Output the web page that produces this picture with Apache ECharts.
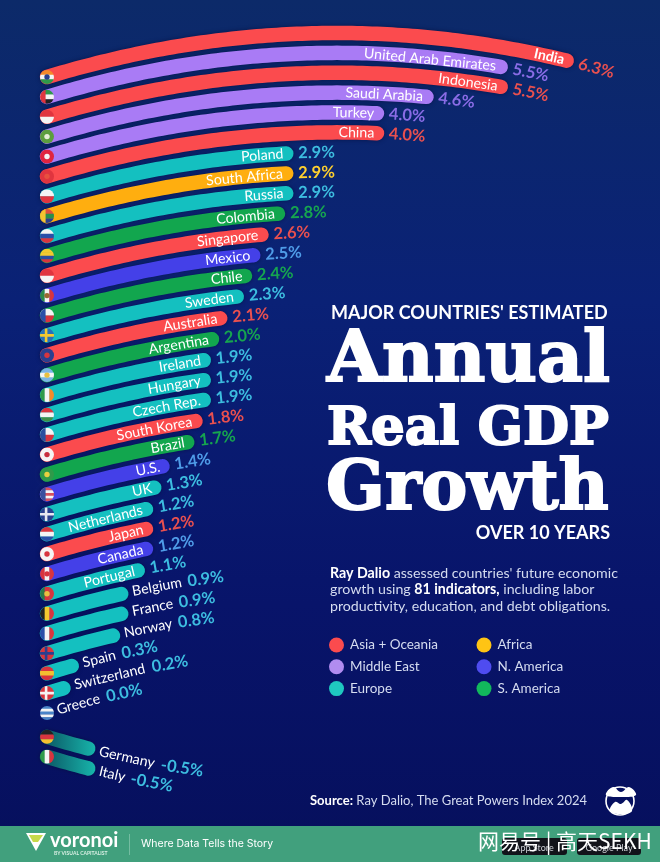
<!DOCTYPE html>
<html>
<head>
<meta charset="utf-8">
<script src="https://cdn.jsdelivr.net/npm/echarts@6/dist/echarts.min.js"></script>
<style>
html,body{margin:0;padding:0;background:#07105e}
#main{width:660px;height:862px}
</style>
</head>
<body>
<div id="main"></div>
<script>
var countries = ['India','United Arab Emirates','Indonesia','Saudi Arabia','Turkey','China','Poland','South Africa','Russia','Colombia','Singapore','Mexico','Chile','Sweden','Australia','Argentina','Ireland','Hungary','Czech Rep.','South Korea','Brazil','U.S.','UK','Netherlands','Japan','Canada','Portugal','Belgium','France','Norway','Spain','Switzerland','Greece','Germany','Italy'];
var growth = [6.3,5.5,5.5,4.6,4.0,4.0,2.9,2.9,2.9,2.8,2.6,2.5,2.4,2.3,2.1,2.0,1.9,1.9,1.9,1.8,1.7,1.4,1.3,1.2,1.2,1.2,1.1,0.9,0.9,0.8,0.3,0.2,0.0,-0.5,-0.5];
var regionOf = ['Asia + Oceania','Middle East','Asia + Oceania','Middle East','Middle East','Asia + Oceania','Europe','Africa','Europe','S. America','Asia + Oceania','N. America','S. America','Europe','Asia + Oceania','S. America','Europe','Europe','Europe','Asia + Oceania','S. America','N. America','Europe','Europe','Asia + Oceania','N. America','Europe','Europe','Europe','Europe','Europe','Europe','Europe','Europe','Europe'];
var regions = ['Asia + Oceania','Middle East','Europe','Africa','N. America','S. America'];

var barColor = {'Asia + Oceania':'#fb4b4e','Middle East':'#a97bf5','Europe':'#14c0c0','Africa':'#ffae0f','N. America':'#4440e8','S. America':'#12a64e'};
var valueColor = {'Asia + Oceania':'#e9504f','Middle East':'#8a6ce6','Europe':'#3dbde0','Africa':'#ffd02e','N. America':'#4f9ce8','S. America':'#16a54f'};
var legendColor = {'Asia + Oceania':'#fb4b4e','Middle East':'#b18cf0','Europe':'#1fc8c0','Africa':'#ffc414','N. America':'#4f4cf0','S. America':'#12b85c'};

// flag look only, stripes run top to bottom (h) or left to right (v)
var flags = {
  'India':{h:['#f58a2a','#f4f4f4','#2f9a4a'],dot:'#2a3f8f'},
  'United Arab Emirates':{h:['#2f9a4a','#f4f4f4','#222'],bar:'#e0353f'},
  'Indonesia':{h:['#e0353f','#f4f4f4']},
  'Saudi Arabia':{h:['#5c9e3e'],dot:'#e6efd8'},
  'Turkey':{h:['#e0253f'],dot:'#f4f4f4'},
  'China':{h:['#e0353f'],dot:'#e8503f'},
  'Poland':{h:['#f4f4f4','#e0353f']},
  'South Africa':{h:['#e0503f','#2a8f4a','#2a3f8f'],bar:'#f4c430'},
  'Russia':{h:['#f4f4f4','#2a4fa8','#d8353f']},
  'Colombia':{h:['#f4c92e','#f4c92e','#2a4f9f','#d8353f']},
  'Singapore':{h:['#e0353f','#f4f4f4']},
  'Mexico':{v:['#2a8a4a','#f4f4f4','#d8353f'],dot:'#9a6a30'},
  'Chile':{h:['#f4f4f4','#d8353f'],bar:'#2a4fa8'},
  'Sweden':{h:['#2a6fb8'],cross:'#f4c92e'},
  'Australia':{h:['#2a3f8f'],dot:'#d8353f'},
  'Argentina':{h:['#7ab4e6','#f4f4f4','#7ab4e6'],dot:'#e8c040'},
  'Ireland':{v:['#2f9a4a','#f4f4f4','#f58a2a']},
  'Hungary':{h:['#d8353f','#f4f4f4','#3f8f4a']},
  'Czech Rep.':{h:['#f4f4f4','#d8353f'],bar:'#2a4f9f'},
  'South Korea':{h:['#f4f4f4'],dot:'#c8303f'},
  'Brazil':{h:['#2f9a4a'],dot:'#e8d040'},
  'U.S.':{h:['#d8505f','#f4f4f4','#d8505f','#f4f4f4','#d8505f'],bar:'#3a4f9f'},
  'UK':{h:['#2a3f8f'],cross:'#e8e8f0'},
  'Netherlands':{h:['#d8353f','#f4f4f4','#2a4fa8']},
  'Japan':{h:['#f4f4f4'],dot:'#d8353f'},
  'Canada':{v:['#d8353f','#f4f4f4','#d8353f'],dot:'#d8353f'},
  'Portugal':{v:['#2a7a4a','#d8353f','#d8353f'],dot:'#e8c040'},
  'Belgium':{v:['#222','#f4c92e','#d8353f']},
  'France':{v:['#2a4fa8','#f4f4f4','#d8353f']},
  'Norway':{h:['#d8353f'],cross:'#2a3f8f'},
  'Spain':{h:['#d8353f','#f4c030','#d8353f']},
  'Switzerland':{h:['#d8353f'],cross:'#f4f4f4'},
  'Greece':{h:['#4a84c8','#f4f4f4','#4a84c8','#f4f4f4','#4a84c8']},
  'Germany':{h:['#222','#d8353f','#f4c030']},
  'Italy':{v:['#2f9a4a','#f4f4f4','#d8353f']}
};

var BAND = 19.875;
var PEAK = 44;   // how far the arc rises, px
var APEX = 290;  // where along the arc it tops out, px
var BAR_W = 14.5;
var FLAG_R = 7;
var NAME_FONT = '14.2px Lato';
var VALUE_FONT = 'bold 16.5px Lato';

var ctx = document.createElement('canvas').getContext('2d');
function textW(str, font) {
  ctx.font = font;
  return ctx.measureText(str).width;
}
// arc height at a distance along the bar. same shape for every row
function arc(dx, sign) {
  var t = (dx - APEX) / APEX;
  return sign * (-PEAK + PEAK * t * t);
}
function chordAngle(a, b, sign) {
  return Math.atan2(arc(b, sign) - arc(a, sign), b - a);
}
function labelEl(text, font, color, x0, y0, fromDx, sign, align) {
  var w = textW(text, font);
  var a = align === 'right' ? fromDx - w : fromDx;
  var b = a + w * 0.98;
  var anchor = align === 'right' ? b : a;
  return {
    type: 'text',
    x: x0 + anchor,
    y: y0 + arc(anchor, sign),
    rotation: -chordAngle(a, b, sign),
    z2: 50,
    style: {text: text, font: font, fill: color, textAlign: align, textVerticalAlign: 'middle'}
  };
}
function flagEl(name, x, y) {
  var f = flags[name], kids = [], R = FLAG_R, i;
  var list = f.h || f.v;
  var step = 2 * R / list.length;
  for (i = 0; i < list.length; i++) {
    kids.push({type: 'rect', z2: 30, shape: f.h
      ? {x: x - R, y: y - R + i * step, width: 2 * R, height: step + 0.3}
      : {x: x - R + i * step, y: y - R, width: step + 0.3, height: 2 * R},
      style: {fill: list[i]}});
  }
  if (f.bar) kids.push({type: 'rect', z2: 31, shape: {x: x - R, y: y - R, width: R * 0.8, height: 2 * R}, style: {fill: f.bar}});
  if (f.cross) {
    kids.push({type: 'rect', z2: 31, shape: {x: x - R, y: y - 1.3, width: 2 * R, height: 2.6}, style: {fill: f.cross}});
    kids.push({type: 'rect', z2: 31, shape: {x: x - 2.2, y: y - R, width: 2.6, height: 2 * R}, style: {fill: f.cross}});
  }
  if (f.dot) kids.push({type: 'circle', z2: 32, shape: {cx: x, cy: y, r: 2.7}, style: {fill: f.dot}});
  return {type: 'group', children: kids, clipPath: {type: 'circle', shape: {cx: x, cy: y, r: R}}};
}

function renderBar(params, api) {
  var row = api.value(1);
  var v = api.value(0);
  var name = countries[row];
  var region = regionOf[row];
  var sign = v < 0 ? -1 : 1;
  var start = api.coord([0, row]);
  var end = api.coord([Math.abs(v), row]);
  var x0 = start[0];
  var y0 = start[1] + (v < 0 ? 4 : 0);
  var len = end[0] - x0;
  var kids = [];

  if (len > 1) {
    var pts = [];
    for (var d = 0; d < len; d += 5) pts.push([x0 + d, y0 + arc(d, sign)]);
    pts.push([x0 + len, y0 + arc(len, sign)]);
    var stroke = v < 0
      ? {type: 'linear', x: 0, y: 0, x2: 1, y2: 0, colorStops: [{offset: 0, color: '#0a4f5e'}, {offset: 1, color: '#17b5ab'}]}
      : barColor[region];
    kids.push({type: 'polyline', z2: 10, shape: {points: pts}, style: {
      stroke: stroke, fill: null, lineWidth: BAR_W, lineCap: 'round', lineJoin: 'round',
      shadowColor: 'rgba(4,10,50,0.55)', shadowBlur: 4
    }});
  }
  kids.push(flagEl(name, x0, y0));

  var valueText = v.toFixed(1) + '%';
  var nameFont = name === 'India' ? 'bold 14px Lato' : NAME_FONT;
  if (Math.abs(v) >= 1) {
    kids.push(labelEl(name, nameFont, '#ffffff', x0, y0, len - 2, sign, 'right'));
    kids.push(labelEl(valueText, VALUE_FONT, valueColor[region], x0, y0, len + 12, sign, 'left'));
  } else {
    var at = len + (v === 0 ? 10 : 11);
    kids.push(labelEl(name, NAME_FONT, '#ffffff', x0, y0, at, sign, 'left'));
    at += textW(name, NAME_FONT) + 5;
    kids.push(labelEl(valueText, VALUE_FONT, valueColor[region], x0, y0, at, sign, 'left'));
  }
  return {type: 'group', children: kids};
}

var series = regions.map(function (r) {
  var rows = [];
  growth.forEach(function (g, i) {
    if (regionOf[i] === r) rows.push([g, i]);
  });
  return {
    type: 'custom',
    name: r,
    coordinateSystem: 'cartesian2d',
    data: rows,
    encode: {x: 0, y: 1},
    renderItem: renderBar,
    clip: false,
    itemStyle: {color: legendColor[r]}
  };
});

var TITLE_FONT = '"DejaVu Serif"';
function titleText(str, size, x, y) {
  return {type: 'text', x: x, y: y, style: {
    text: str, fill: '#ffffff', font: 'bold ' + size + 'px ' + TITLE_FONT,
    textVerticalAlign: 'bottom', stroke: '#ffffff', lineWidth: 2
  }};
}
function plainText(str, font, color, x, y, align) {
  return {type: 'text', x: x, y: y, style: {text: str, font: font, fill: color, textAlign: align || 'left', textVerticalAlign: 'middle'}};
}

var chart = echarts.init(document.getElementById('main'), null, {renderer: 'canvas'});
chart.setOption({
  animation: false,
  backgroundColor: {type: 'linear', x: 0, y: 0, x2: 0, y2: 1, colorStops: [
    {offset: 0, color: '#0c2a69'}, {offset: 0.35, color: '#0a2176'}, {offset: 0.7, color: '#08146a'}, {offset: 1, color: '#060f5c'}
  ]},
  grid: {left: 47, top: 67.06, width: 528, height: BAND * countries.length},
  xAxis: {type: 'value', min: 0, max: 6.4, show: false},
  yAxis: {type: 'category', data: countries, inverse: true, show: false},
  legend: [
    {data: regions.slice(0, 3), left: 324, top: 632.5, orient: 'vertical', itemWidth: 15, itemHeight: 15, itemGap: 6.8, icon: 'circle', selectedMode: false,
      textStyle: {color: '#d5dcf0', fontFamily: 'Lato', fontSize: 13.5, padding: [0, 0, 0, 1]}},
    {data: regions.slice(3), left: 471.5, top: 632.5, orient: 'vertical', itemWidth: 15, itemHeight: 15, itemGap: 6.8, icon: 'circle', selectedMode: false,
      textStyle: {color: '#d5dcf0', fontFamily: 'Lato', fontSize: 13.5, padding: [0, 0, 0, 1]}}
  ],
  series: series,
  graphic: [
    plainText("MAJOR COUNTRIES' ESTIMATED", 'bold 18px Lato', '#ffffff', 331, 313),
    titleText('Annual', 71, 327, 398),
    titleText('Real GDP', 53, 327, 457),
    titleText('Growth', 69, 326, 526),
    plainText('OVER 10 YEARS', 'bold 18px Lato', '#ffffff', 610, 533, 'right'),
    {type: 'text', x: 330, y: 565, style: {
      text: '{b|Ray Dalio} assessed countries\' future economic\ngrowth using {b|81 indicators,} including labor\nproductivity, education, and debt obligations.',
      font: '14.2px Lato', fill: '#d5dcf0', lineHeight: 16.5,
      rich: {b: {font: 'bold 14.2px Lato', fill: '#ffffff', lineHeight: 16.5}}
    }},
    {type: 'text', x: 310, y: 793, style: {
      text: '{b|Source:} Ray Dalio, The Great Powers Index 2024',
      font: '13px Lato', fill: '#d5dcf0', lineHeight: 16,
      rich: {b: {font: 'bold 13px Lato', fill: '#ffffff', lineHeight: 16}}
    }},
    // mustache logo
    {type: 'circle', shape: {cx: 620, cy: 801, r: 14}, style: {fill: 'transparent', stroke: '#ffffff', lineWidth: 1.6}},
    {type: 'polygon', shape: {points: [[606, 795], [613, 787], [621, 792], [629, 787], [636, 795], [621, 797]], smooth: 0.4}, style: {fill: '#ffffff'}},
    {type: 'polygon', shape: {points: [[610, 811], [615, 802], [621, 804], [627, 800], [632, 811], [621, 814]], smooth: 0.4}, style: {fill: '#ffffff'}},
    // footer
    {type: 'rect', shape: {x: 0, y: 826, width: 660, height: 36}, style: {fill: '#41a07d'}},
    {type: 'polygon', shape: {points: [[26, 833], [46, 833], [36, 851]]}, style: {fill: '#ffffff'}},
    {type: 'polygon', shape: {points: [[29, 835], [43, 835], [38, 842], [33, 842]]}, style: {fill: '#c7d94a'}},
    plainText('voronoi', 'bold 20px Lato', '#ffffff', 50, 841),
    plainText('BY VISUAL CAPITALIST', 'bold 5px Lato', '#d9efe4', 54, 853),
    {type: 'rect', shape: {x: 129, y: 834, width: 0.7, height: 21}, style: {fill: '#8cc9b0'}},
    plainText('Where Data Tells the Story', '10.5px Inter', '#ffffff', 141, 844),
    {type: 'rect', shape: {x: 502, y: 838, width: 65, height: 17, r: 3}, style: {fill: '#12131a'}},
    {type: 'rect', shape: {x: 577, y: 838, width: 64, height: 17, r: 3}, style: {fill: '#12131a'}},
    plainText('App Store', '9px Lato', '#cfd2d8', 534, 848, 'center'),
    plainText('Google Play', '9px Lato', '#cfd2d8', 609, 848, 'center'),
    plainText('网易号 | 高天SEKH', '21px "Noto Sans CJK SC"', '#ffffff', 478, 841)
  ]
});
</script>
</body>
</html>
